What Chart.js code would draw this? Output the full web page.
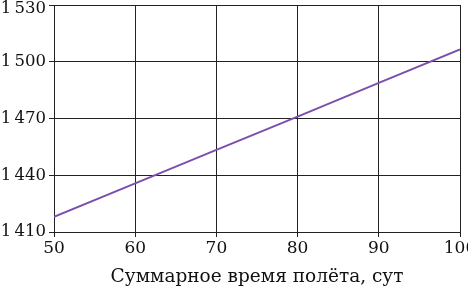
<!DOCTYPE html>
<html><head><meta charset="utf-8">
<script src="https://cdn.jsdelivr.net/npm/chart.js@4/dist/chart.umd.min.js"></script>
<style>html,body{margin:0;padding:0;background:#fff}#c{display:block}</style>
</head><body>
<canvas id="c" width="468" height="291"></canvas>
<script>
const flightDays = [50, 60, 70, 80, 90, 100];
const values = [1418, 1435.7, 1453.4, 1471, 1488.8, 1506.5];
const xTicks = [50, 60, 70, 80, 90, 100];
const yTicks = [1410, 1440, 1470, 1500, 1530];
const xTitle = 'Суммарное время полёта, сут';

const FONT = 'DejaVu Serif';
const keepTopLabel = {
  id: 'keepTopLabel',
  beforeDraw(chart) {
    const items = chart.scales.y.getLabelItems();
    items.forEach(it => { if (it.options.translation[1] < 9) it.options.translation[1] = 9; });
  }
};
new Chart(document.getElementById('c'), {
  type: 'line',
  data: { datasets: [{ data: flightDays.map((x, i) => ({x, y: values[i]})), borderColor: '#7b4fae', borderWidth: 2, pointRadius: 0, tension: 0 }] },
  plugins: [keepTopLabel],
  options: {
    responsive: false, animation: false,
    layout: { padding: 0 },
    plugins: { legend: { display: false }, tooltip: { enabled: false } },
    scales: {
      x: { type: 'linear', min: 50, max: 100,
        afterBuildTicks: s => { s.ticks = xTicks.map(v => ({value: v})); },
        afterFit: s => { s.height = 59; s.paddingLeft = 0; s.paddingRight = 8; },
        ticks: { font: { family: FONT, size: 17 }, color: '#111', padding: 1, maxRotation: 0 },
        grid: { color: '#222', lineWidth: 1, tickLength: 5 },
        border: { color: '#222', width: 1 },
        title: { display: true, text: xTitle, font: { family: FONT, size: 18.5 }, color: '#111', padding: { top: 0, bottom: 3 } } },
      y: { min: 1410, max: 1530,
        afterBuildTicks: s => { s.ticks = yTicks.map(v => ({value: v})); },
        afterFit: s => { s.width = 54; s.paddingTop = 5; s.paddingBottom = 0; },
        ticks: { font: { family: FONT, size: 16.5 }, color: '#111', padding: 3,
          callback: v => { const s = String(v); return s.slice(0, 1) + '\u2009' + s.slice(1); } },
        grid: { color: '#222', lineWidth: 1, tickLength: 5 },
        border: { color: '#222', width: 1 } }
    }
  }
});
</script>
</body></html>
